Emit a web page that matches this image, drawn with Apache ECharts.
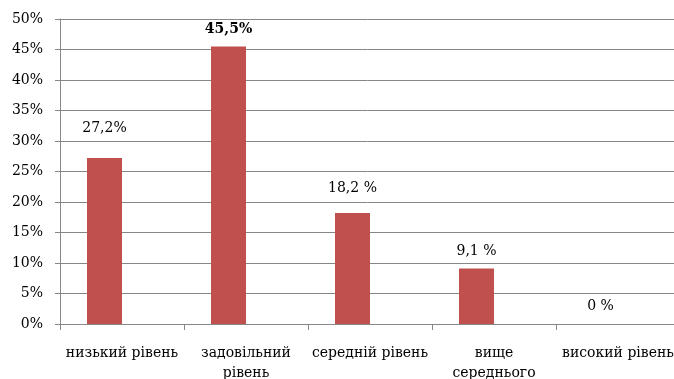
<!DOCTYPE html>
<html>
<head>
<meta charset="utf-8">
<script src="https://cdn.jsdelivr.net/npm/echarts@6/dist/echarts.min.js"></script>
<style>
  html, body { margin: 0; padding: 0; background: #fff; }
  #chart { width: 674px; height: 379px; }
</style>
</head>
<body>
<div id="chart"></div>
<script>
// Levels of achievement and the share of students at each level (%)
const categories = ['низький рівень', 'задовільний рівень', 'середній рівень', 'вище середнього', 'високий рівень'];
const tickLabels = ['низький рівень', 'задовільний\nрівень', 'середній рівень', 'вище\nсереднього', 'високий рівень'];
const shares = [27.2, 45.5, 18.2, 9.1, 0];
const labelSuffix = ['%', '%', ' %', ' %', ' %'];
const labelGap = [23, 10, 18, 10, 11];

const serif = 'DejaVu Serif';
const gray = '#878787';

const chart = echarts.init(document.getElementById('chart'), null, { renderer: 'canvas' });

chart.setOption({
  animation: false,
  backgroundColor: '#ffffff',
  grid: {
    left: 60, top: 19, width: 620, height: 305,
    containLabel: false,
    outerBoundsMode: 'none'
  },
  xAxis: {
    type: 'category',
    data: categories,
    axisLine: { show: true, lineStyle: { color: gray, width: 1 } },
    axisTick: { show: true, alignWithLabel: false, interval: 0, length: 6, lineStyle: { color: gray } },
    axisLabel: {
      interval: 0,
      margin: 19,
      color: '#000',
      fontFamily: serif,
      fontSize: 14,
      lineHeight: 20,
      formatter: (v, i) => tickLabels[i]
    },
    splitLine: { show: false }
  },
  yAxis: {
    type: 'value',
    min: 0,
    max: 50,
    interval: 5,
    axisLine: { show: true, lineStyle: { color: gray, width: 1 } },
    axisTick: { show: true, length: 5, lineStyle: { color: gray } },
    axisLabel: {
      margin: 17,
      color: '#000',
      fontFamily: serif,
      fontSize: 14,
      formatter: '{value}%'
    },
    splitLine: { show: true, lineStyle: { color: gray, width: 1 } }
  },
  series: [
    {
      type: 'bar',
      barWidth: 35,
      barGap: '0%',
      itemStyle: { color: '#C0504D' },
      data: shares.map((v, i) => ({
        value: v,
        label: {
          show: true,
          position: 'top',
          distance: labelGap[i],
          color: '#000',
          fontFamily: serif,
          fontSize: 14,
          fontWeight: i === 1 ? 'bold' : 'normal',
          formatter: () => String(v).replace('.', ',') + labelSuffix[i]
        }
      }))
    },
    {
      // empty companion series: keeps the clustered spacing of the bars
      type: 'bar',
      barWidth: 35,
      barGap: '0%',
      itemStyle: { color: '#C0504D' },
      data: categories.map(() => null)
    }
  ]
});
</script>
</body>
</html>
